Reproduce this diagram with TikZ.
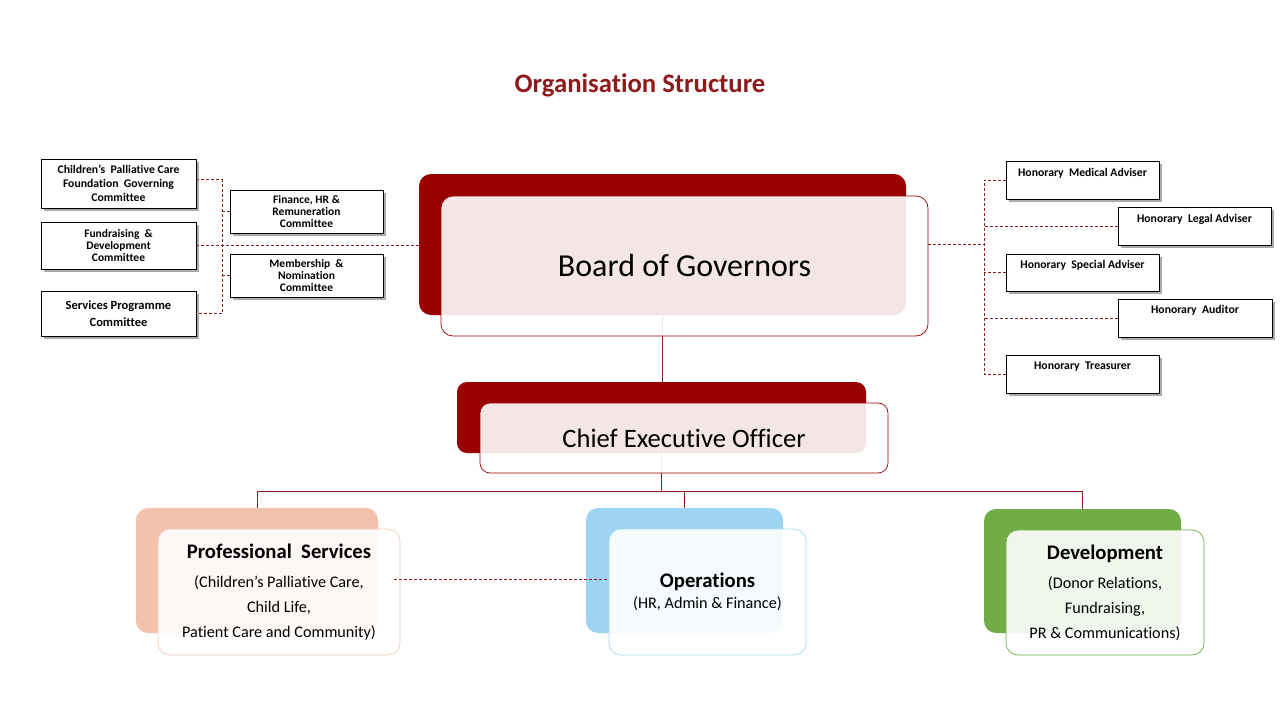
\documentclass[tikz,border=0pt]{standalone}
\usepackage{fontspec}
\setmainfont{Carlito}[Ligatures=NoCommon]
\usetikzlibrary{shadows,calc}
\definecolor{darkred}{HTML}{990000}
\definecolor{titlered}{HTML}{8E1B1B}
\definecolor{linkred}{HTML}{8E1E22}
\definecolor{salmon}{HTML}{F3C1AC}
\definecolor{salmonline}{HTML}{F2CDBE}
\definecolor{skyblue}{HTML}{9DD4F2}
\definecolor{skyline}{HTML}{A9D9EE}
\definecolor{leafgreen}{HTML}{70AD47}
\tikzset{
  backbox/.style={rectangle, rounded corners=12pt, inner sep=0pt, draw=none},
  frontbox/.style={rectangle, rounded corners=12pt, inner sep=0pt, fill=white, fill opacity=0.9, text opacity=1, line width=0.7pt, align=center},
  cbox/.style={rectangle, draw=black, fill=white, line width=0.8pt, inner sep=0pt, align=center,
    drop shadow={shadow xshift=2.5pt, shadow yshift=-2.5pt, fill=black!55, opacity=0.6},
    font=\bfseries\fontsize{11.5}{12}\selectfont},
  advtext/.style={anchor=north, inner sep=0pt, font=\bfseries\fontsize{11.7}{13}\selectfont},
  link/.style={draw=linkred, line width=0.75pt},
  dlink/.style={draw=linkred, line width=0.75pt, dash pattern=on 3pt off 2pt},
}
\begin{document}
\begin{tikzpicture}[x=1pt,y=-1pt]
\useasboundingbox (0,0) rectangle (1280,720);
\fill[white] (0,0) rectangle (1280,720);

% title
\node[font=\bfseries\fontsize{26.7}{30}\selectfont, text=titlered] (title) at (640,85) {Organisation Structure};

% back boxes
\node[backbox, fill=darkred, minimum width=487pt, minimum height=141pt] (bback) at (662.5,244.5) {};
\node[backbox, fill=darkred, rounded corners=10pt, minimum width=409pt, minimum height=71pt] (cback) at (661.5,417.5) {};
\node[backbox, fill=salmon, minimum width=242pt, minimum height=125pt] (pback) at (257,570.5) {};
\node[backbox, fill=skyblue, minimum width=197pt, minimum height=125pt] (oback) at (684.5,570.5) {};
\node[backbox, fill=leafgreen, minimum width=197pt, minimum height=124pt] (dback) at (1082.5,571) {};

% solid connectors
\coordinate (bus) at (661.5,491);
\draw[link] (bback.south) -- (bback.south |- cback.north);
\draw[link] (cback.south) -- (bus);
\draw[link] (pback.north) -- (pback.north |- bus) -| (dback.north);
\draw[link] (oback.north) -- (oback.north |- bus);

% front boxes
\node[frontbox, draw=darkred, minimum width=487pt, minimum height=140pt, font=\fontsize{32}{36}\selectfont] (bfront) at (684.5,266) {Board of Governors};
\node[frontbox, draw=darkred, rounded corners=10pt, minimum width=408pt, minimum height=70pt, font=\fontsize{26.6}{30}\selectfont] (cfront) at (684,438) {Chief Executive Officer};
\node[frontbox, draw=salmonline, minimum width=242pt, minimum height=126pt, font=\fontsize{16.2}{25}\selectfont] (pfront) at (279,592)
  {{\bfseries\fontsize{20.7}{22}\selectfont Professional\ \ Services}\\[4pt](Children’s Palliative Care,\\Child Life,\\Patient Care and Community)};
\node[frontbox, draw=skyline, minimum width=197pt, minimum height=126pt, font=\fontsize{16.2}{21}\selectfont] (ofront) at (707.5,592)
  {{\bfseries\fontsize{20.7}{22}\selectfont Operations}\\(HR, Admin \& Finance)};
\node[frontbox, draw=leafgreen, minimum width=198pt, minimum height=125pt, font=\fontsize{16.2}{25}\selectfont] (dfront) at (1105,592.5)
  {{\bfseries\fontsize{20.7}{22}\selectfont Development}\\[4pt](Donor Relations,\\Fundraising,\\PR \& Communications)};

% dashed link between divisions
\coordinate (pd) at (394,579);
\draw[dlink] (pd) -- (pd -| ofront.west);

% left committees
\node[cbox, minimum width=155pt, minimum height=49pt, font=\bfseries\fontsize{11.7}{14}\selectfont] (c1) at (118.5,183.5) {Children’s\ \ Palliative Care\\Foundation\ \ Governing\\Committee};
\node[cbox, minimum width=155pt, minimum height=47pt] (c2) at (118.5,245.5) {Fundraising\ \ \&\\Development\\Committee};
\node[cbox, minimum width=155pt, minimum height=45pt, font=\bfseries\fontsize{12.5}{17}\selectfont] (c3) at (118.5,313.5) {Services Programme\\Committee};
\node[cbox, minimum width=153pt, minimum height=43pt] (c4) at (306.5,211.5) {Finance, HR \&\\Remuneration\\Committee};
\node[cbox, minimum width=153pt, minimum height=43pt] (c5) at (306.5,275.5) {Membership\ \ \&\\Nomination\\Committee};

\coordinate (jl) at (222,243);
\draw[dlink] ($(c1.east)+(0,-4)$) -- ($(c1.east -| jl)+(0,-4)$) -- (c3.east -| jl) -- (c3.east);
\draw[dlink] (c4.west) -- (c4.west -| jl);
\draw[dlink] (c5.west) -- (c5.west -| jl);
\draw[dlink] (c2.east) -- (c2.east -| bback.west);

% right advisers
\node[cbox, minimum width=153pt, minimum height=38pt] (a1) at (1082.5,180) {};
\node[cbox, minimum width=153pt, minimum height=38pt] (a2) at (1194.5,226) {};
\node[cbox, minimum width=153pt, minimum height=37pt] (a3) at (1082.5,272.5) {};
\node[cbox, minimum width=154pt, minimum height=38pt] (a4) at (1195,318) {};
\node[cbox, minimum width=153pt, minimum height=38pt] (a5) at (1082.5,374) {};
\node[advtext] (t1) at ($(a1.north)+(0,7)$) {Honorary\ \ Medical Adviser};
\node[advtext] (t2) at ($(a2.north)+(0,7)$) {Honorary\ \ Legal Adviser};
\node[advtext] (t3) at ($(a3.north)+(0,6)$) {Honorary\ \ Special Adviser};
\node[advtext] (t4) at ($(a4.north)+(0,6)$) {Honorary\ \ Auditor};
\node[advtext] (t5) at ($(a5.north)+(0,7)$) {Honorary\ \ Treasurer};

\coordinate (jr) at (984,244.5);
\draw[dlink] (bfront.east |- jr) -- (jr);
\draw[dlink] (a1.west) -- (a1.west -| jr) -- (a5.west -| jr) -- (a5.west);
\draw[dlink] (a2.west) -- (a2.west -| jr);
\draw[dlink] (a3.west) -- (a3.west -| jr);
\draw[dlink] (a4.west) -- (a4.west -| jr);
\end{tikzpicture}
\end{document}
